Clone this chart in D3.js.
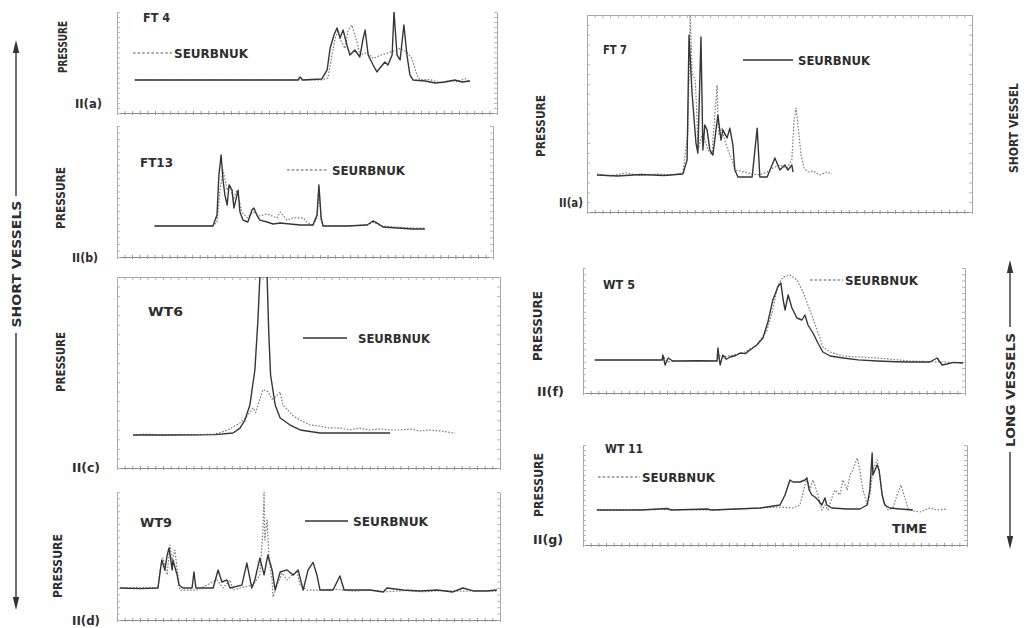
<!DOCTYPE html>
<html><head><meta charset="utf-8">
<script src="https://cdn.jsdelivr.net/npm/d3@7"></script>
<style>body{margin:0;background:#fff}svg{display:block}</style>
</head><body><svg id="c" width="1028" height="628"></svg>
<script>
// ---------- DATA (time 0-100, pressure 0-100 per panel) ----------
const ft4Solid = [[4.7,32.7],[22,32.7],[47.6,32.7],[48.2,35.6],[48.9,32.7],[53.9,33.7],[55.3,42.6],[56.1,64.4],[57.1,77.2],[57.9,84.2],[58.7,74.3],[59.5,82.2],[60.5,67.3],[61.3,57.4],[62.6,62.4],[63.9,55.4],[64.7,72.3],[65.3,82.2],[66.1,57.4],[67.4,47.5],[68.4,40.6],[69.2,44.6],[70.5,50.5],[71.3,47.5],[72.4,57.4],[72.9,100],[73.7,57.4],[74.5,52.5],[75.5,87.1],[76.3,57.4],[77.1,37.6],[77.9,32.7],[81.1,31.7],[83.7,29.7],[86.3,30.7],[88.9,32.7],[90.8,30.7],[92.9,31.7]];
const ft4Dotted = [[4.7,32.7],[47.6,32.7],[53.9,32.7],[55.5,34.7],[56.1,47.5],[57.4,74],[58.2,82],[58.9,72],[60,64],[60.8,82],[61.8,87],[62.6,77],[63.4,67],[63.9,57],[65.8,60],[67.4,54],[69.2,57],[71.8,60],[73.2,62],[74.5,64],[76.3,60],[77.6,54],[78.9,38],[79.7,33],[82.4,33],[85,30],[87.6,32],[89.7,31],[91.6,34],[92.9,31]];

const ft13Solid = [[10,23.7],[16.8,23.7],[25.5,23.7],[26.6,32],[27.1,62.6],[27.7,77.9],[28.2,58.8],[28.7,47.3],[29.3,39.7],[29.8,55],[30.6,51],[31.1,37.4],[31.9,47.3],[32.2,51],[32.7,34.4],[33.5,28.2],[34.8,26.7],[35.9,35.9],[36.4,37.4],[37.2,32],[38,28.2],[39.9,26.7],[41.5,25.2],[43.4,26],[46,25.2],[48.7,24.4],[52.1,24.4],[53.2,32],[53.7,55],[54.3,29.8],[54.8,23.7],[61.2,23.7],[66.5,24.4],[68.1,27.5],[69.1,26],[70.7,22.9],[74.5,22.1],[78.7,21.4],[81.9,21.4]];
const ft13Dotted = [[10,23.7],[25.5,23.7],[26.6,26.7],[27.4,51],[28.2,66.4],[29.3,51],[30.1,55],[30.9,43.5],[31.9,51],[33.2,34.4],[34.6,29.8],[36.2,34.4],[38,31.3],[39.9,32.8],[42.6,29.8],[43.4,34.4],[45.2,28.2],[46.8,29.8],[49.5,29.8],[50.5,26.7],[52.1,23.7],[53.2,30],[53.7,51],[54.3,28],[54.8,23.7],[61.2,23.7],[66.5,24.4],[68.1,26.5],[70.7,23.5],[74.5,22.8],[78.7,22.1],[81.9,22.1]];

const wt6Solid = [[4.2,17.3],[15,17.3],[25.6,17.5],[30.3,18.3],[32.1,20.9],[33.4,25.1],[34.7,33],[36,51.3],[36.8,77.5],[37.3,100],[37.8,130],[38.8,130],[39.2,100],[39.6,72.3],[40.1,48.7],[41.3,33],[42.6,26.2],[45.2,22.5],[47.8,19.9],[53,18.3],[60.8,18.3],[71.3,18.3]];
const wt6Dotted = [[4.2,17.3],[8,17.8],[12,17],[16,17.6],[20,17.2],[25.6,17.8],[28.2,19.4],[29.5,20.5],[32.1,23.6],[33.4,26],[34.7,29],[35.5,31.5],[36.2,29],[36.8,33],[38.1,41],[39.4,40],[40.5,36],[41.3,37],[42.6,39.8],[43.3,33],[44.6,30.4],[45.7,27.7],[47.8,25.1],[50.4,22.5],[53,22],[55,21],[58.2,20.9],[60.8,20],[63.4,20.9],[66,19.9],[68.7,20.5],[71.3,19.9],[73.9,19.9],[76.5,20.4],[79.1,19.4],[81.7,19.9],[84.3,19.4],[86.5,18.8],[88.3,18.3]];

const wt9Solid = [[0.8,25],[6,24.5],[10.7,25],[11.7,46.9],[12.5,39.1],[13.1,50.8],[13.6,56.3],[14.4,39.1],[14.6,46.9],[15.7,35.2],[16.2,27.3],[17.2,25],[19.6,25],[20.1,37.5],[20.6,25],[25.1,25],[26.4,39.1],[27.4,29.7],[28.7,31.3],[29.5,25],[32.6,27.3],[33.9,44.5],[35.2,25],[36,31.3],[37.3,48.4],[38.4,35.2],[39.4,50.8],[40.5,39.1],[41.3,23.4],[42.6,37.5],[44.4,39.1],[46,35.2],[47.3,39.1],[48.6,23.4],[49.9,39.1],[51.2,45],[52.2,35.2],[53,23.4],[56.4,23.4],[58.2,34.4],[59.3,23.4],[61.6,23.4],[66.1,23.4],[69.5,21.9],[70.5,25],[74.7,23.4],[79.1,22.7],[83.6,23.4],[87.7,21.9],[90.3,25],[93,22.7],[96.6,22.7],[99.2,23.4]];
const wt9Dotted = [[0.8,25],[5,25.5],[10.7,25],[11.2,39.1],[12,48.4],[13.1,35.2],[13.8,58.6],[14.4,46.9],[15.1,54.7],[15.9,35.2],[16.4,23.4],[20.9,23.4],[26.1,31.3],[27.7,25],[29.5,31.3],[30.3,23.4],[32.1,25],[35.5,27.3],[37.3,35.2],[38.1,70],[38.4,100],[38.6,62.5],[39.2,78.1],[39.7,46.9],[40.5,31.3],[40.7,18],[41.8,27.3],[43.1,36.7],[44.4,31.3],[45.7,35.2],[47,37.5],[47.8,27.3],[49.6,23.4],[53,23.4],[57,24],[62,22.5],[66,23.5],[70,22],[75,23],[80,22],[85,23],[90,22.5],[95,23],[99,22.5]];

const ft7Solid = [[2.6,18.8],[8,18.3],[14,19],[20,18.5],[24.9,19.3],[26,26.4],[26.5,89.8],[27.3,60],[28.3,35],[28.8,29.9],[29.6,88.8],[30.1,31.5],[30.6,44.2],[31.2,41.6],[31.9,31.5],[32.7,28.9],[33.5,41.6],[34,49.2],[34.8,36.5],[35.3,41.6],[36.4,37.6],[37.1,42.6],[37.9,34],[38.4,21.3],[39.2,17.8],[41.6,17.8],[42.9,17.8],[44.2,42.6],[44.9,17.8],[46.8,17.8],[48.8,27.4],[50.1,21.3],[51.4,23.9],[52.2,21.3],[53.2,23.9],[53.5,20.3]];
const ft7Dotted = [[2.6,19.3],[6,18.3],[10,19.8],[14,18.5],[18,19.3],[22,18.8],[24.9,19.8],[26.2,40],[26.8,100],[27.3,70.6],[28.1,67],[28.6,46.7],[28.8,31.5],[29.9,39.1],[30.6,36.5],[31.4,31.5],[32.5,28.9],[32.7,36.5],[33.8,64.5],[34,46.7],[34.3,39.1],[35.1,42.6],[35.8,36.5],[36.6,31.5],[37.7,26.4],[38.4,21.3],[39.7,20.8],[42.9,19.3],[44.9,18.8],[46.8,20.3],[48.3,22.3],[50.1,23.9],[51.9,22.3],[53.2,26.4],[53.8,46.7],[54.3,52.8],[54.8,44.2],[55.6,28.9],[56.4,22.3],[57.4,20.3],[58.7,20.8],[60.5,18.8],[62.3,20.3],[63.6,19.3]];

const wt5Solid = [[3.1,26.4],[12,26.4],[20.7,26.4],[20.9,30.4],[21.5,22.4],[22.3,28],[23.5,25.6],[26.2,25.6],[30,25.8],[35.1,25.6],[35.3,36],[35.9,22.4],[36.6,30.4],[37.5,27],[38.5,28.8],[40,30],[41.1,32],[42.5,31.5],[43.7,34.4],[45.5,38.4],[47.1,44],[48.4,56.8],[49.7,74.4],[51,84.8],[51.8,88],[52.4,74.4],[52.9,66.4],[53.7,78.4],[54.7,68],[56,60],[57.3,58.4],[58.1,62.4],[58.9,54.4],[60.2,48],[61.5,40],[62.8,32.8],[64.7,29.6],[68.1,28],[72,26.5],[77,25.6],[82,25],[85.6,24.8],[90.8,24.8],[92.7,28],[94,22.4],[95.3,23.2],[97,24.5],[99.5,24]];
const wt5Dotted = [[3.1,26.4],[20.7,26.4],[21.2,28.5],[22,25],[26.2,26],[35.1,26],[35.6,30],[36.6,28.8],[41.9,32],[45.5,38.4],[48.2,50.4],[49.7,66.4],[51,86.4],[52.4,92.8],[54.2,94.4],[56,90.4],[57.6,80.8],[59.4,66.4],[61.3,50.4],[62.8,36.8],[64.7,32.8],[68.1,29.6],[77,28],[85.6,25.6],[94,24.8],[99.5,24]];

const wt11Solid = [[3.6,35],[15,35],[21.9,36.5],[23,35],[32.3,36],[33.5,35],[46.1,37],[51.3,40],[52.6,50],[53.9,65],[54.7,63],[56.5,63],[57.8,65],[58.3,67],[58.9,55],[59.6,50],[60.4,48],[61.2,45],[62.2,40],[63,47],[63.5,40],[64.8,37],[68.8,36],[72.1,36],[74,40],[74.7,55],[75.3,92],[75.5,70],[76.6,80],[77.1,75],[77.9,50],[78.6,40],[79.9,37],[82.6,36],[85.9,35]];
const wt11Dotted = [[3.6,35],[20,35.5],[35,35],[46.1,37],[51.3,38],[54.7,37],[56.5,40],[57.8,60],[58.3,67],[59.1,55],[59.9,65],[61.2,50],[62.2,35],[63,40],[63.8,35],[64.8,47],[65.6,55],[66.9,50],[67.7,65],[68.8,55],[69.5,70],[70.3,75],[71.4,87],[72.1,75],[72.9,55],[74,40],[74.7,50],[75.5,75],[76.6,85],[77.3,70],[78.1,45],[79.4,35],[80.7,37],[81.8,50],[82.8,60],[83.6,50],[84.6,37],[85.9,34],[87.8,33],[90.4,37],[92.2,35],[94.8,36]];

const panelTitles = ["FT 4","FT13","WT6","WT9","FT 7","WT 5","WT 11"];
const panelTags = ["II(a)","II(b)","II(c)","II(d)","II(a)","II(f)","II(g)"];
const legendLabel = "SEURBNUK";
const yLabel = "PRESSURE";
const xLabel = "TIME";
const sideLabels = ["SHORT  VESSELS","SHORT  VESSEL","LONG  VESSELS"];

// ---------- LAYOUT ----------
const layout = [
 {solid:ft4Solid, dotted:ft4Dotted, box:[117,12,497,113], top:false, title:[143,22,27], tag:[75,108,27], press:[67,47,52], leg:{type:"dotted",x1:133,x2:172,y:53,tx:174,tw:74}},
 {solid:ft13Solid, dotted:ft13Dotted, box:[117,126,493,257], top:false, title:[140,167,33], tag:[72,262,26], press:[65,198,62], leg:{type:"dotted",x1:287,x2:328,y:170,tx:332,tw:73}},
 {solid:wt6Solid, dotted:wt6Dotted, box:[117,277,500,468], top:true, title:[148,316,35], tag:[72,472,28], press:[65,362,60], leg:{type:"solid",x1:303,x2:347,y:338,tx:358,tw:72}},
 {solid:wt9Solid, dotted:wt9Dotted, box:[117,492,500,620], top:false, title:[140,527,32], tag:[72,625,28], press:[62,566,64], leg:{type:"solid",x1:305,x2:348,y:521,tx:353,tw:75}},
 {solid:ft7Solid, dotted:ft7Dotted, box:[587,15,972,212], top:true, title:[603,54,24], tag:[559,207,24], press:[545,126,62], leg:{type:"solid",x1:743,x2:793,y:60,tx:798,tw:72}},
 {solid:wt5Solid, dotted:wt5Dotted, box:[583,268,965,393], top:false, title:[603,289,32], tag:[537,396,27], press:[542,326,70], leg:{type:"dotted",x1:810,x2:843,y:280,tx:845,tw:73}},
 {solid:wt11Solid, dotted:wt11Dotted, box:[583,445,967,545], top:false, title:[605,453,38], tag:[533,544,30], press:[543,485,64], leg:{type:"dotted",x1:598,x2:640,y:477,tx:642,tw:73}, time:[892,533,35]}
];

const FONT = '"DejaVu Sans Condensed","DejaVu Sans",sans-serif';
const INK = "#2e2e2e";
const svg = d3.select("#c");
svg.append("rect").attr("width",1028).attr("height",628).attr("fill","#fff");

function txt(g, s, x, y, w, size, rot){
  const t = g.append("text").text(s)
    .attr("font-family",FONT).attr("font-weight","bold")
    .attr("font-size",size).attr("fill",INK)
    .attr("textLength",w).attr("lengthAdjust","spacingAndGlyphs");
  if(rot){
    t.attr("text-anchor","middle").attr("transform",`translate(${x},${y}) rotate(-90)`);
  } else {
    t.attr("x",x).attr("y",y);
  }
  return t;
}

layout.forEach((p,i)=>{
  const [x0,y0,x1,y1] = p.box;
  const g = svg.append("g");
  const x = d3.scaleLinear().domain([0,100]).range([x0,x1]);
  const y = d3.scaleLinear().domain([0,100]).range([y1,y0]);

  const frame = "#a8a8a8";
  const ax = g.append("g").attr("transform",`translate(0,${y1})`)
    .call(d3.axisBottom(x).ticks(50).tickSize(3).tickSizeOuter(0).tickFormat(""));
  ax.select(".domain").attr("stroke","#8a8a8a").attr("stroke-width",1.1);
  ax.selectAll(".tick line").attr("stroke","#9a9a9a").attr("y1",-2).attr("y2",2);
  const al = g.append("g").attr("transform",`translate(${x0},0)`)
    .call(d3.axisRight(y).ticks(25).tickSize(3).tickSizeOuter(0).tickFormat(""));
  al.select(".domain").attr("stroke",frame);
  al.selectAll(".tick line").attr("stroke","#b5b5b5");
  const ar = g.append("g").attr("transform",`translate(${x1},0)`)
    .call(d3.axisLeft(y).ticks(25).tickSize(3).tickSizeOuter(0).tickFormat(""));
  ar.select(".domain").attr("stroke",frame);
  ar.selectAll(".tick line").attr("stroke","#b5b5b5");
  if(p.top){
    const at = g.append("g").attr("transform",`translate(0,${y0})`)
      .call(d3.axisBottom(x).ticks(50).tickSize(3).tickSizeOuter(0).tickFormat(""));
    at.select(".domain").attr("stroke",frame);
    at.selectAll(".tick line").attr("stroke","#b5b5b5");
  }
  g.selectAll("path.domain").attr("fill","none");

  const cid = "clip"+i;
  svg.append("clipPath").attr("id",cid).append("rect")
    .attr("x",x0).attr("y",y0).attr("width",x1-x0).attr("height",y1-y0);

  const line = d3.line().x(d=>x(d[0])).y(d=>y(d[1]));
  g.append("path").datum(p.dotted).attr("d",line).attr("clip-path",`url(#${cid})`)
    .attr("fill","none").attr("stroke","#7d7d7d").attr("stroke-width",1.2)
    .attr("stroke-dasharray","1.6,1.6").attr("stroke-linejoin","round");
  g.append("path").datum(p.solid).attr("d",line).attr("clip-path",`url(#${cid})`)
    .attr("fill","none").attr("stroke","#363636").attr("stroke-width",1.4)
    .attr("stroke-linejoin","round");

  const L = p.leg;
  g.append("line").attr("x1",L.x1).attr("x2",L.x2).attr("y1",L.y).attr("y2",L.y)
    .attr("stroke",L.type==="solid"?"#333":"#555")
    .attr("stroke-width",L.type==="solid"?1.4:1.1)
    .attr("stroke-dasharray",L.type==="solid"?null:"2.6,2");
  txt(g, legendLabel, L.tx, L.y+5, L.tw, 13);

  txt(g, panelTitles[i], p.title[0], p.title[1], p.title[2], 13);
  txt(g, panelTags[i], p.tag[0], p.tag[1], p.tag[2], 12);
  txt(g, yLabel, p.press[0], p.press[1], p.press[2], 12, true);
  if(p.time) txt(g, xLabel, p.time[0], p.time[1], p.time[2], 13);
});

// side annotations
const side = svg.append("g");
function arrowLine(xp, ya, yb){
  side.append("line").attr("x1",xp).attr("x2",xp).attr("y1",ya).attr("y2",yb)
    .attr("stroke","#333").attr("stroke-width",1.4);
}
function head(xp, ytip, dir){
  const h = 13*dir, w = 3.2;
  side.append("path").attr("d",`M${xp},${ytip} L${xp-w},${ytip+h} L${xp+w},${ytip+h} Z`).attr("fill","#333");
}
arrowLine(16, 44, 196); arrowLine(16, 333, 606);
head(16, 40, 1); head(16, 610, -1);
txt(side, sideLabels[0], 21, 264, 127, 12, true);
txt(side, sideLabels[1], 1018, 128, 90, 12, true);
arrowLine(1010, 264, 327); arrowLine(1010, 452, 545);
head(1010, 260, 1); head(1010, 549, -1);
txt(side, sideLabels[2], 1015, 390, 114, 12, true);
</script></body></html>
